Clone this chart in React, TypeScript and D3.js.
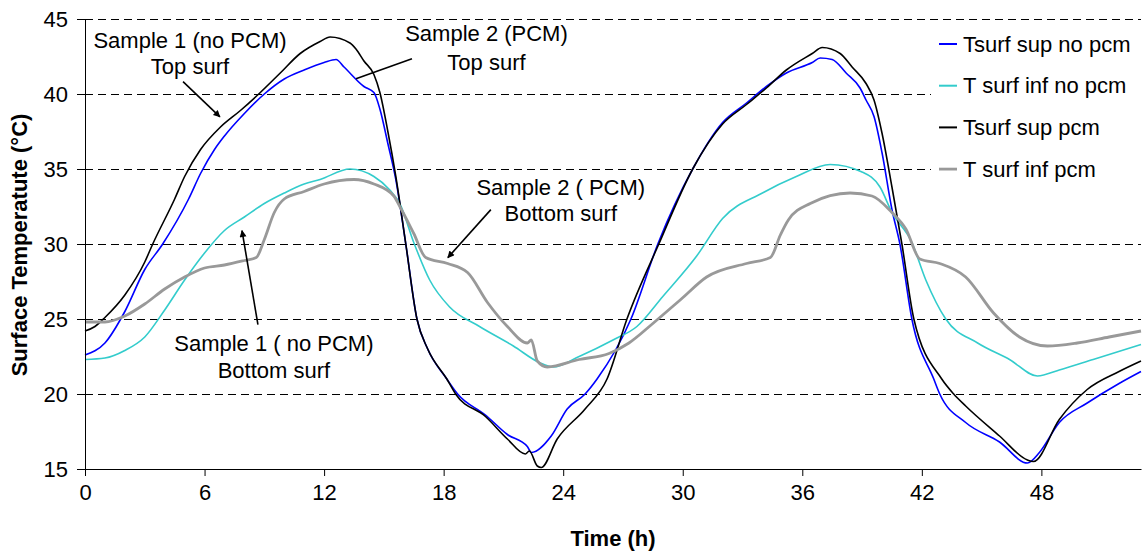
import React, { useEffect, useRef } from "react";
import * as d3 from "d3";

// [time (h), temperature (°C)]
const supNoPcm: [number, number][] = [
  [0, 22.6], [1, 23.4], [2, 25.5], [3, 28.3], [3.9, 30], [5.2, 33.0], [5.8, 34.7], [6.5, 36.3],
  [7, 37.2], [8, 38.7], [9, 40.0], [10, 41.0], [11, 41.6], [12, 42.1], [12.6, 42.3], [13, 41.8],
  [14, 40.5], [14.5, 40.1], [14.8, 39.0], [15.2, 36.7], [15.6, 34.3], [16.1, 30], [16.66, 25],
  [17.2, 23], [18.16, 21], [18.7, 20], [20.1, 18.6], [21.2, 17.3], [22.2, 16.5], [22.4, 16.1],
  [23.4, 17.2], [24.2, 19.0], [25.1, 20.0], [25.7, 21], [27.4, 25], [28.75, 30], [30.5, 35],
  [32, 38.1], [33.2, 39.4], [34.2, 40.5], [35.2, 41.4], [36.5, 42.1], [36.9, 42.4], [37.5, 42.3],
  [38.2, 41.4], [38.9, 40.4], [39.2, 39.6], [39.6, 38.5], [40.0, 36.1], [40.5, 32.3], [40.9, 30],
  [41.5, 25], [42.6, 21], [42.9, 20], [44.2, 18.1], [45.9, 16.8], [47.3, 15.4], [47.9, 16.1],
  [48.9, 18.1], [50.3, 19.4], [51.9, 20.7], [53, 21.5],
];

const infNoPcm: [number, number][] = [
  [0, 22.3], [1, 22.4], [2, 22.9], [3, 23.8], [4, 25.6], [5, 27.6], [6, 29.4], [7, 30.9],
  [8, 31.8], [9, 32.7], [10, 33.4], [11, 34.0], [11.8, 34.3], [13.3, 35.0], [14.5, 34.5],
  [15.3, 33.6], [15.8, 32.7], [16.5, 30.1], [17.3, 27.6], [18.3, 25.8], [19.8, 24.5], [21.5, 23.2],
  [22.8, 22.1], [23.5, 21.8], [24.8, 22.5], [26.5, 23.6], [27.7, 24.5], [29.0, 26.5], [30.7, 29.2],
  [32.0, 31.7], [34.0, 33.4], [35.7, 34.5], [37.4, 35.3], [39.0, 34.8], [39.9, 33.8], [40.5, 32.1],
  [41.5, 30.1], [42.2, 27.6], [43.2, 25.0], [44.8, 23.4], [46.4, 22.3], [47.8, 21.2], [48.9, 21.6],
  [50.6, 22.3], [53, 23.3],
];

const supPcm: [number, number][] = [
  [0, 24.2], [0.5, 24.5], [1, 25.1], [2, 26.6], [3, 28.8], [3.4, 30], [4.5, 33.0], [5.0, 34.5],
  [5.8, 36.3], [6.8, 37.8], [7.8, 38.9], [8.8, 40.1], [9.8, 41.4], [10.8, 42.7], [11.8, 43.5],
  [12.3, 43.8], [13.3, 43.4], [13.6, 43.0], [14.0, 42.2], [14.5, 41.3], [14.8, 40.1], [15.2, 37.5],
  [15.6, 34.5], [16.1, 30], [16.66, 25], [17.2, 23], [18.16, 21], [18.6, 20], [20.1, 18.5],
  [21.2, 17.0], [22.1, 16.0], [22.3, 16.2], [22.7, 15.2], [22.9, 15.1], [23.7, 17.0], [25.1, 19.0],
  [26.2, 21], [27.2, 25], [28.8, 30], [30.5, 35], [32, 38], [33.2, 39.3], [34.2, 40.4], [35.2, 41.6],
  [36.5, 42.7], [37.0, 43.1], [37.9, 42.7], [38.5, 41.8], [39.2, 40.7], [39.6, 39.6], [40.0, 37.4],
  [40.5, 33.8], [41.0, 30], [41.6, 25], [43.0, 21], [43.6, 20], [44.2, 19.2], [45.9, 17.2],
  [47.3, 15.6], [47.6, 15.5], [48.9, 18.3], [50.3, 20.3], [51.9, 21.5], [53, 22.2],
];

const infPcm: [number, number][] = [
  [0, 24.8], [1, 24.8], [2, 25.2], [3, 26.0], [4, 27.0], [5, 27.8], [6, 28.4], [7, 28.6],
  [8, 28.9], [8.6, 29.1], [9, 30.3], [9.5, 32.1], [10, 33.0], [11, 33.5], [12, 34.0], [13.5, 34.3],
  [14.5, 34.0], [15.5, 33.2], [15.8, 32.5], [16.5, 30.7], [17.1, 29.1], [18.2, 28.7], [19.2, 28.1],
  [20.2, 26.1], [21.2, 24.5], [22.2, 23.4], [22.4, 23.6], [22.7, 22.2], [23.2, 21.8], [24.8, 22.3],
  [26.3, 22.7], [27.3, 23.4], [28.5, 24.7], [29.9, 26.3], [31.2, 27.8], [33.2, 28.7], [34.4, 29.1],
  [34.9, 30.6], [35.3, 31.6], [36.4, 32.7], [38.4, 33.4], [39.5, 33.2], [40.5, 32.1], [41.2, 31.0],
  [41.9, 29.0], [42.9, 28.7], [44.2, 27.8], [45.6, 25.4], [46.9, 23.8], [48.3, 23.2], [49.8, 23.4],
  [51.4, 23.8], [53, 24.2],
];

const seriesNames = ["Tsurf sup no pcm", "T surf inf no pcm", "Tsurf sup pcm", "T surf inf pcm"];
const seriesData = [supNoPcm, infNoPcm, supPcm, infPcm];
const seriesColors = ["#0000ff", "#33cccc", "#000000", "#999999"];
const seriesWidths = [1.6, 1.6, 1.6, 2.8];

const xTicks = [0, 6, 12, 18, 24, 30, 36, 42, 48];
const yTicks = [15, 20, 25, 30, 35, 40, 45];

// annotation labels: [x (h), y (°C), text]
const labels: [number, number, string][] = [
  [5.27, 43.1, "Sample 1 (no PCM)"],
  [5.27, 41.35, "Top surf"],
  [20.15, 43.55, "Sample 2 (PCM)"],
  [20.15, 41.62, "Top surf"],
  [23.88, 33.29, "Sample 2 ( PCM)"],
  [23.88, 31.55, "Bottom surf"],
  [9.48, 22.89, "Sample 1 ( no PCM)"],
  [9.48, 21.09, "Bottom surf"],
];
// arrows: [x1, y1, x2, y2, head]
const arrows: [number, number, number, number, boolean][] = [
  [4.92, 40.82, 6.77, 38.48, true],
  [16.41, 42.35, 13.6, 41.02, false],
  [20.37, 32.29, 18.21, 29.09, true],
  [8.68, 24.62, 7.88, 30.89, true],
];

const FONT = "Arial, 'Liberation Sans', sans-serif";

const App = () => {
  const ref = useRef<SVGSVGElement>(null);

  useEffect(() => {
    const width = 1142;
    const height = 552;
    const margin = { left: 85, right: 1, top: 19, bottom: 83 };

    const x = d3.scaleLinear().domain([0, 53]).range([margin.left, width - margin.right]);
    const y = d3.scaleLinear().domain([15, 45]).range([height - margin.bottom, margin.top]);

    const svg = d3.select(ref.current);
    svg.selectAll("*").remove();

    svg
      .append("defs")
      .append("marker")
      .attr("id", "head")
      .attr("viewBox", "0 0 10 10")
      .attr("refX", 9)
      .attr("refY", 5)
      .attr("markerWidth", 9)
      .attr("markerHeight", 7)
      .attr("markerUnits", "userSpaceOnUse")
      .attr("orient", "auto")
      .append("path")
      .attr("d", "M0,0L10,5L0,10z")
      .attr("fill", "black");

    // gridlines
    svg
      .append("g")
      .selectAll("line")
      .data(yTicks.filter((d) => d > 15))
      .enter()
      .append("line")
      .attr("x1", x(0))
      .attr("x2", x(53))
      .attr("y1", (d) => y(d) + 0.5)
      .attr("y2", (d) => y(d) + 0.5)
      .attr("stroke", "black")
      .attr("stroke-width", 1)
      .attr("shape-rendering", "crispEdges")
      .attr("stroke-dasharray", "8,5");

    // lines
    const line = d3
      .line<[number, number]>()
      .x((d) => x(d[0]))
      .y((d) => y(d[1]))
      .curve(d3.curveMonotoneX);

    svg
      .append("g")
      .selectAll("path")
      .data(seriesData)
      .enter()
      .append("path")
      .attr("d", (d) => line(d))
      .attr("fill", "none")
      .attr("stroke", (d, i) => seriesColors[i])
      .attr("stroke-width", (d, i) => seriesWidths[i])
      .attr("stroke-linejoin", "round");

    // axes
    const yAxis = svg
      .append("g")
      .attr("transform", `translate(${x(0)},0)`)
      .call(d3.axisLeft(y).tickValues(yTicks).tickSize(8).tickSizeOuter(0).tickPadding(9));
    const xAxis = svg
      .append("g")
      .attr("transform", `translate(0,${y(15)})`)
      .call(d3.axisBottom(x).tickValues(xTicks).tickSize(7).tickSizeOuter(0).tickPadding(8));
    [yAxis, xAxis].forEach((g) => {
      g.selectAll("text").attr("font-size", 22).attr("font-family", FONT).attr("fill", "black");
      g.selectAll("line").attr("stroke", "black");
      g.select(".domain").attr("stroke", "black");
    });

    // axis titles
    svg
      .append("text")
      .attr("transform", `translate(27,${(y(15) + y(45)) / 2 + 1}) rotate(-90)`)
      .attr("text-anchor", "middle")
      .attr("font-family", FONT)
      .attr("font-weight", "bold")
      .attr("font-size", 22)
      .text("Surface Temperatute (°C)");
    svg
      .append("text")
      .attr("x", (x(0) + x(53)) / 2)
      .attr("y", 546)
      .attr("text-anchor", "middle")
      .attr("font-family", FONT)
      .attr("font-weight", "bold")
      .attr("font-size", 22)
      .text("Time (h)");

    // annotations
    svg
      .append("g")
      .selectAll("text")
      .data(labels)
      .enter()
      .append("text")
      .attr("x", (d) => x(d[0]))
      .attr("y", (d) => y(d[1]))
      .attr("text-anchor", "middle")
      .attr("font-family", FONT)
      .attr("font-size", 22)
      .text((d) => d[2]);

    svg
      .append("g")
      .selectAll("line")
      .data(arrows)
      .enter()
      .append("line")
      .attr("x1", (d) => x(d[0]))
      .attr("y1", (d) => y(d[1]))
      .attr("x2", (d) => x(d[2]))
      .attr("y2", (d) => y(d[3]))
      .attr("stroke", "black")
      .attr("stroke-width", 1.6)
      .attr("marker-end", (d) => (d[4] ? "url(#head)" : null));

    // legend
    const legend = svg.append("g");
    legend
      .append("rect")
      .attr("x", 931)
      .attr("y", 24)
      .attr("width", 211)
      .attr("height", 166)
      .attr("fill", "white");
    const items = legend
      .selectAll("g")
      .data(seriesNames)
      .enter()
      .append("g")
      .attr("transform", (d, i) => `translate(939,${44 + i * 41.7})`);
    items
      .append("line")
      .attr("x1", 0)
      .attr("x2", 18)
      .attr("stroke", (d, i) => seriesColors[i])
      .attr("stroke-width", (d, i) => (i === 3 ? 2.8 : 2));
    items
      .append("text")
      .attr("x", 24)
      .attr("dy", "0.35em")
      .attr("font-family", FONT)
      .attr("font-size", 22)
      .text((d) => d);
  }, []);

  return (
    <svg
      ref={ref}
      width={1142}
      height={552}
      style={{ position: "absolute", left: 0, top: 0, background: "white" }}
    ></svg>
  );
};

export default App;
